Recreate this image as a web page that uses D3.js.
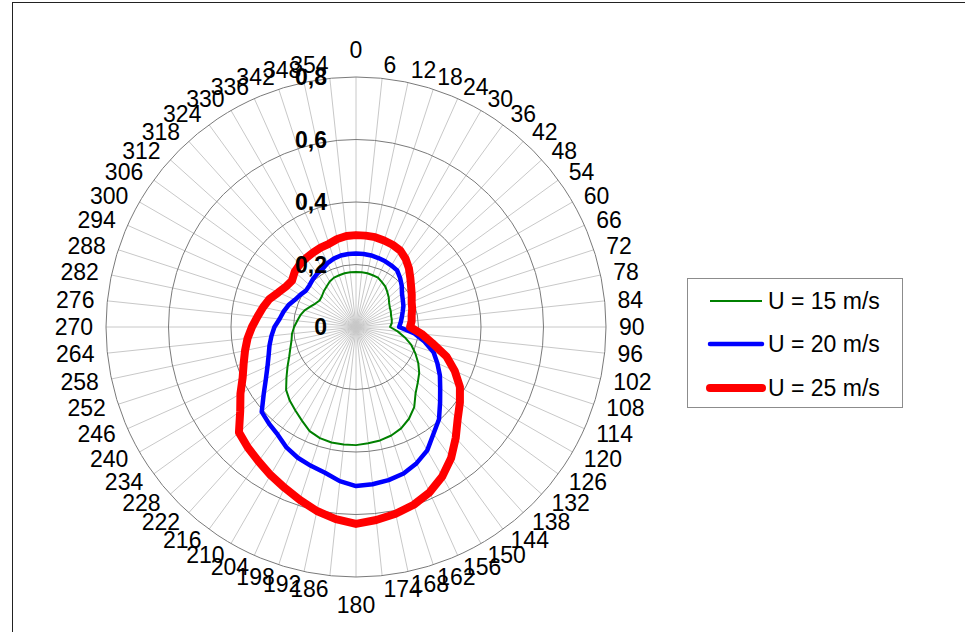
<!DOCTYPE html>
<html>
<head>
<meta charset="utf-8">
<script src="https://cdn.jsdelivr.net/npm/d3@7/dist/d3.min.js"></script>
<style>
  html, body { margin: 0; padding: 0; background: #fff; }
  svg { display: block; font-family: "Liberation Sans", Arial, sans-serif; }
</style>
</head>
<body>
<svg id="chart" width="965" height="632"></svg>
<script>
// Angles (degrees) – one spoke / label every 6°
const angles = [0,6,12,18,24,30,36,42,48,54,60,66,72,78,84,90,96,102,108,114,120,126,132,138,144,150,156,162,168,174,
                180,186,192,198,204,210,216,222,228,234,240,246,252,258,264,270,276,282,288,294,300,306,312,318,324,330,336,342,348,354];
// Radial ticks
const radialTicks = [0, 0.2, 0.4, 0.6, 0.8];
const radialTickLabels = ["0", "0,2", "0,4", "0,6", "0,8"];

// Series values (one per angle)
const u15 = [0.176,0.176,0.176,0.174,0.173,0.166,0.160,0.150,0.141,0.131,0.125,0.122,0.118,0.117,0.115,0.109,0.134,0.160,0.186,0.208,
             0.230,0.250,0.266,0.285,0.317,0.339,0.355,0.365,0.371,0.374,0.378,0.378,0.378,0.374,0.365,0.346,0.330,0.317,0.301,0.275,
             0.253,0.234,0.221,0.211,0.206,0.198,0.189,0.182,0.173,0.160,0.150,0.144,0.147,0.154,0.160,0.168,0.173,0.174,0.176,0.176];
const u20 = [0.235,0.235,0.234,0.232,0.230,0.227,0.224,0.211,0.197,0.182,0.173,0.166,0.157,0.150,0.144,0.138,0.186,0.224,0.261,0.285,
             0.310,0.333,0.362,0.397,0.422,0.456,0.477,0.493,0.501,0.506,0.509,0.496,0.477,0.467,0.458,0.445,0.426,0.416,0.406,0.365,
             0.333,0.310,0.294,0.283,0.272,0.261,0.246,0.237,0.227,0.214,0.206,0.198,0.200,0.206,0.211,0.214,0.224,0.230,0.234,0.235];
const u25 = [0.294,0.294,0.294,0.291,0.288,0.283,0.270,0.253,0.234,0.218,0.206,0.195,0.189,0.182,0.179,0.173,0.211,0.250,0.304,0.346,
             0.384,0.411,0.438,0.477,0.518,0.552,0.579,0.598,0.611,0.621,0.630,0.618,0.602,0.582,0.563,0.547,0.531,0.518,0.504,0.458,
             0.427,0.397,0.378,0.363,0.349,0.333,0.317,0.304,0.291,0.272,0.259,0.253,0.264,0.269,0.272,0.275,0.278,0.280,0.288,0.293];

const seriesNames = ["U = 15 m/s", "U = 20 m/s", "U = 25 m/s"];
const seriesColors = ["#008000", "#0000ff", "#ff0000"];
const seriesWidths = [2, 4.5, 8];
const seriesValues = [u15, u20, u25];

const svg = d3.select("#chart");
const cx = 356, cy = 327;
const rScale = d3.scaleLinear().domain([0, 0.8]).range([0, 250]);
const toRad = d => d * Math.PI / 180;

// outer frame (right and bottom edges fall outside the window)
svg.append("rect").attr("x", 12.5).attr("y", 2.5).attr("width", 980).attr("height", 660)
  .attr("fill", "none").attr("stroke", "#222").attr("stroke-width", 1);

const g = svg.append("g").attr("transform", `translate(${cx},${cy})`);

// spokes
g.selectAll("line.spoke").data(angles).join("line")
  .attr("class", "spoke")
  .attr("x1", 0).attr("y1", 0)
  .attr("x2", d => rScale(0.8) * Math.sin(toRad(d)))
  .attr("y2", d => -rScale(0.8) * Math.cos(toRad(d)))
  .attr("stroke", "#c8c8c8").attr("stroke-width", 1);

// circles
g.selectAll("circle.grid").data(radialTicks.filter(d => d > 0)).join("circle")
  .attr("class", "grid")
  .attr("r", d => rScale(d))
  .attr("fill", "none").attr("stroke", "#7a7a7a").attr("stroke-width", 1);

// series
const line = d3.lineRadial()
  .angle((d, i) => toRad(angles[i]))
  .radius(d => rScale(d))
  .curve(d3.curveLinearClosed);

seriesValues.forEach((vals, k) => {
  g.append("path").datum(vals)
    .attr("d", line)
    .attr("fill", "none")
    .attr("stroke", seriesColors[k])
    .attr("stroke-width", seriesWidths[k])
    .attr("stroke-linejoin", "round");
});

// radial tick labels
g.selectAll("text.rtick").data(radialTicks).join("text")
  .attr("class", "rtick")
  .attr("x", -29)
  .attr("y", d => -rScale(d))
  .attr("text-anchor", "end")
  .attr("dominant-baseline", "central")
  .attr("font-size", 23)
  .attr("font-weight", "bold")
  .attr("fill", "#000")
  .text((d, i) => radialTickLabels[i]);

// angle labels
const R = 263;
g.selectAll("text.atick").data(angles).join("text")
  .attr("class", "atick")
  .attr("x", d => R * Math.sin(toRad(d)))
  .attr("y", d => {
    const y = -R * Math.cos(toRad(d));
    if (d === 0) return y - 6;
    if (d === 180) return y + 6;
    return y;
  })
  .attr("text-anchor", d => (d === 0 || d === 180) ? "middle" : (d < 180 ? "start" : "end"))
  .attr("dominant-baseline", d => d === 0 ? "auto" : (d === 180 ? "hanging" : "central"))
  .attr("font-size", 23)
  .attr("fill", "#000")
  .text(d => d);

// legend
const lg = svg.append("g");
lg.append("rect").attr("x", 687.5).attr("y", 278.5).attr("width", 215).attr("height", 129)
  .attr("fill", "#fff").attr("stroke", "#8c8c8c").attr("stroke-width", 1);
const legendY = [301, 344, 388];
seriesNames.forEach((name, k) => {
  lg.append("line")
    .attr("x1", 710).attr("x2", 762)
    .attr("y1", legendY[k]).attr("y2", legendY[k])
    .attr("stroke", seriesColors[k]).attr("stroke-width", seriesWidths[k])
    .attr("stroke-linecap", k === 0 ? "butt" : "round");
  lg.append("text")
    .attr("x", 768).attr("y", legendY[k])
    .attr("dominant-baseline", "central")
    .attr("font-size", 23).attr("fill", "#000")
    .text(name);
});
</script>
</body>
</html>
